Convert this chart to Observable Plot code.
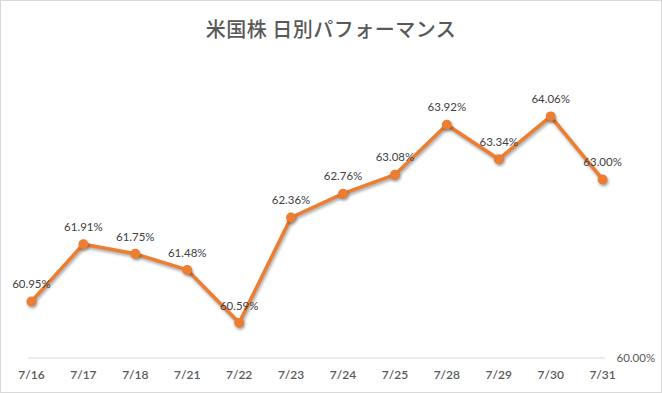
<!DOCTYPE html>
<html>
<head>
<meta charset="utf-8">
<script src="https://cdn.jsdelivr.net/npm/d3@7"></script>
<script src="https://cdn.jsdelivr.net/npm/@observablehq/plot@0.6"></script>
<style>
  html, body { margin: 0; padding: 0; background: #fff; }
  #wrap { position: relative; width: 662px; height: 393px; box-sizing: border-box; border: 1px solid #d9d9d9; overflow: hidden; }
  #title { position: absolute; top: 13px; left: 0; width: 100%; text-align: center;
           font-family: "Noto Sans CJK JP", sans-serif; font-size: 20px; font-weight: 500; color: #595959; letter-spacing: 0.5px; }
  #chart { position: absolute; top: -1px; left: -1px; }
  .shadowed { filter: drop-shadow(1px 2px 1.5px rgba(0,0,0,0.35)); }
</style>
</head>
<body>
<div id="wrap">
  <div id="title">米国株 日別パフォーマンス</div>
  <div id="chart"></div>
</div>
<script>
const dates = ["7/16","7/17","7/18","7/21","7/22","7/23","7/24","7/25","7/28","7/29","7/30","7/31"];
const values = [60.95, 61.91, 61.75, 61.48, 60.59, 62.36, 62.76, 63.08, 63.92, 63.34, 64.06, 63.00];
const yTicks = [60];

const data = dates.map((d, i) => ({date: d, value: values[i]}));
const orange = "#ED7D31";

const plot = Plot.plot({
  width: 662,
  height: 393,
  marginLeft: 28,
  marginRight: 56,
  marginTop: 60,
  marginBottom: 35,
  style: {fontFamily: "Lato, sans-serif", background: "transparent"},
  x: {type: "point", domain: dates, padding: 0, label: null},
  y: {domain: [60, 65], label: null},
  marks: [
    Plot.ruleY([60], {stroke: "#d9d9d9", strokeWidth: 1}),
    Plot.axisX({tickSize: 0, tickPadding: 13, fontSize: 12, fontWeight: 600, fill: "#595959", label: null}),
    Plot.axisY({anchor: "right", ticks: yTicks, tickSize: 0, tickPadding: 11, fontSize: 11.5, fill: "#595959",
                tickFormat: d => d.toFixed(2) + "%", label: null}),
    Plot.line(data, {x: "date", y: "value", stroke: orange, strokeWidth: 3.5, strokeLinejoin: "round", className: "shadowed"}),
    Plot.dot(data, {x: "date", y: "value", r: 4.2, fill: orange, stroke: orange, className: "shadowed"}),
    Plot.text(data, {x: "date", y: "value", text: d => d.value.toFixed(2) + "%", dy: -17,
                     fontSize: 11.5, fill: "#404040"})
  ]
});
document.getElementById("chart").appendChild(plot);
</script>
</body>
</html>
